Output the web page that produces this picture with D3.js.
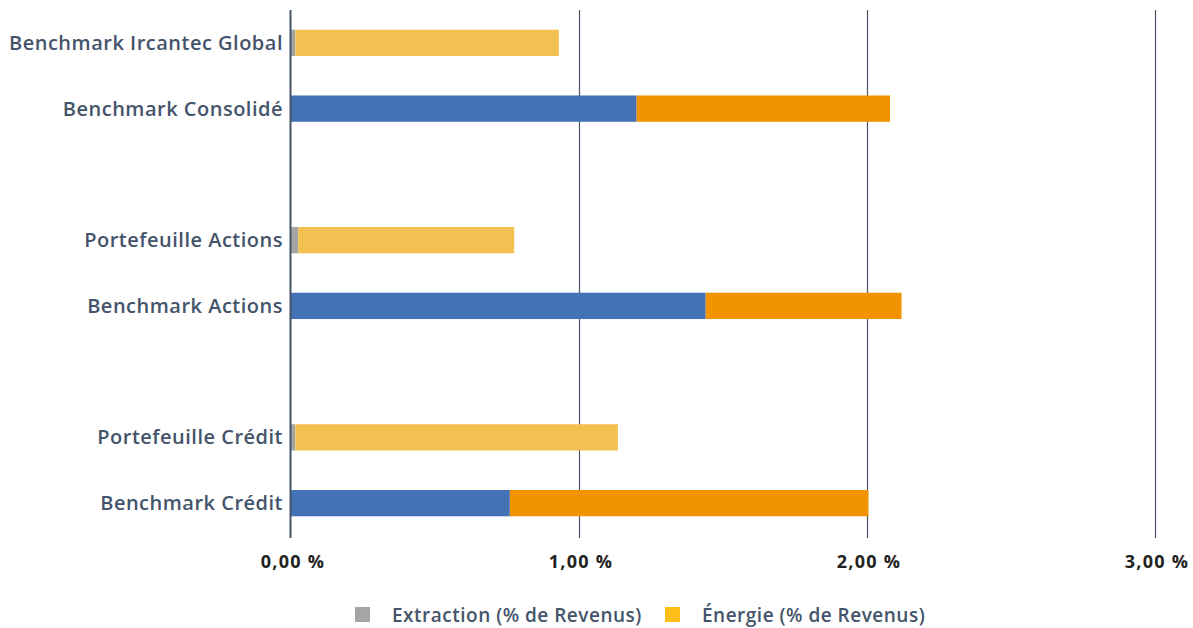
<!DOCTYPE html>
<html>
<head>
<meta charset="utf-8">
<script src="https://cdn.jsdelivr.net/npm/d3@7"></script>
<style>
  html, body { margin: 0; padding: 0; background: #fff; }
  svg { display: block; }
</style>
</head>
<body>
<svg id="chart" width="1193" height="628"></svg>
<script>
// Rows from top to bottom; empty strings are spacer slots between groups
const categories = [
  "Benchmark Ircantec Global",
  "Benchmark Consolidé",
  "",
  "Portefeuille Actions",
  "Benchmark Actions",
  "",
  "Portefeuille Crédit",
  "Benchmark Crédit"
];
// Share of revenues (%) from extraction and from energy
const extraction = [0.015, 1.20, null, 0.025, 1.44, null, 0.015, 0.76];
const energie    = [0.915, 0.88, null, 0.75, 0.68, null, 1.12, 1.245];
// Benchmark rows use the darker palette
const isBenchmark = [false, true, false, false, true, false, false, true];
const xTicks = [0, 1, 2, 3];
const legendLabels = ["Extraction (% de Revenus)", "Énergie (% de Revenus)"];

const svg = d3.select("#chart");
const W = 1193, H = 628;
const plot = { left: 291, right: 1155, top: 10, bottom: 538 };
const labelFont = "'Open Sans', Lato, sans-serif";

const x = d3.scaleLinear().domain([0, 3]).range([plot.left, plot.right]);
const y = d3.scaleBand()
  .domain(categories.map((c, i) => i))
  .range([plot.top, plot.bottom - 2])
  .paddingInner(0.6).paddingOuter(0.3);

// vertical gridlines
svg.append("g").selectAll("line")
  .data(xTicks.slice(1)).join("line")
  .attr("x1", d => x(d) + 0.5).attr("x2", d => x(d) + 0.5)
  .attr("y1", plot.top).attr("y2", plot.bottom)
  .attr("stroke", "#4d5566").attr("stroke-width", 1.2);

const rows = categories.map((c, i) => ({ c, i, ex: extraction[i], en: energie[i], b: isBenchmark[i] }))
  .filter(r => r.ex !== null);

const colors = {
  exP: "#a5a5a5", enP: "#f3c151",
  exB: "#4472b7", enB: "#f29400"
};

const bars = svg.append("g");
// extraction segment
bars.selectAll("rect.ex").data(rows).join("rect")
  .attr("class", "ex")
  .attr("x", d => x(0))
  .attr("y", d => y(d.i))
  .attr("width", d => x(d.ex) - x(0))
  .attr("height", y.bandwidth())
  .attr("fill", d => d.b ? colors.exB : colors.exP);
// energy segment stacked after extraction
bars.selectAll("rect.en").data(rows).join("rect")
  .attr("class", "en")
  .attr("x", d => x(d.ex))
  .attr("y", d => y(d.i))
  .attr("width", d => x(d.ex + d.en) - x(d.ex))
  .attr("height", y.bandwidth())
  .attr("fill", d => d.b ? colors.enB : colors.enP);

// zero axis line
svg.append("line")
  .attr("x1", x(0) - 0.5).attr("x2", x(0) - 0.5)
  .attr("y1", plot.top).attr("y2", plot.bottom)
  .attr("stroke", "#44546a").attr("stroke-width", 2);

// category labels
svg.append("g").selectAll("text")
  .data(rows).join("text")
  .attr("x", x(0) - 8)
  .attr("y", d => y(d.i) + y.bandwidth() / 2)
  .attr("dy", "0.35em")
  .attr("text-anchor", "end")
  .attr("font-family", labelFont)
  .attr("font-weight", 600)
  .attr("font-size", 20)
  .attr("letter-spacing", 0.5)
  .attr("fill", "#44546a")
  .text(d => d.c);

// x axis tick labels
const fmt = d => d3.format(".2f")(d).replace(".", ",") + "\u00a0%";
svg.append("g").selectAll("text")
  .data(xTicks).join("text")
  .attr("x", d => x(d) + 2)
  .attr("y", 568)
  .attr("text-anchor", "middle")
  .attr("font-family", "'Open Sans', sans-serif")
  .attr("font-weight", 700)
  .attr("font-size", 18)
  .attr("letter-spacing", 1.3)
  .attr("fill", "#222")
  .text(fmt);

// legend
const legend = svg.append("g");
const legendItems = [
  { label: legendLabels[0], color: "#a5a5a5", x: 355 },
  { label: legendLabels[1], color: "#fbbf17", x: 665 }
];
legend.selectAll("rect").data(legendItems).join("rect")
  .attr("x", d => d.x).attr("y", 607)
  .attr("width", 15).attr("height", 15)
  .attr("fill", d => d.color);
legend.selectAll("text").data(legendItems).join("text")
  .attr("x", d => d.x + 37).attr("y", 615)
  .attr("dy", "0.35em")
  .attr("font-family", labelFont)
  .attr("font-weight", 600)
  .attr("font-size", 19)
  .attr("letter-spacing", 0.5)
  .attr("fill", "#44546a")
  .text(d => d.label);
</script>
</body>
</html>
